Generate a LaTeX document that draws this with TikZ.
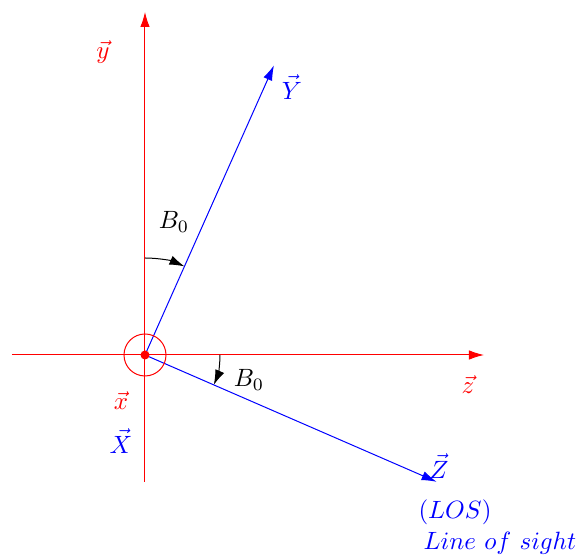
\documentclass[tikz,border=0pt]{standalone}
\usetikzlibrary{arrows.meta,calc}
\begin{document}
\begin{tikzpicture}[x=0.4pt,y=0.4pt,
  axis/.style={red,line width=0.4pt,-{Latex[length=6pt,width=3.8pt]}},
  vecb/.style={blue,line width=0.4pt,-{Latex[length=6pt,width=3.8pt]}},
  anglearc/.style={black,line width=0.4pt,-{Latex[length=6pt,width=3.8pt]}},
  lab/.style={inner sep=0pt}]
\useasboundingbox (0,0) rectangle (582,559);
\coordinate (O) at (145,204);
\coordinate (yb) at (145,77);
\coordinate (yt) at (145,547);
\coordinate (zl) at (12,204);
\coordinate (zt) at (484,204);
\coordinate (Yt) at ($(O)+(66:317)$);
\coordinate (Zt) at ($(O)+(-23.5:318)$);
\draw[axis] (yb) -- (yt);
\draw[axis] (zl) -- (zt);
\draw[vecb] (O) -- (Yt);
\draw[vecb] (O) -- (Zt);
\draw[red,line width=0.4pt] (O) circle (21);
\fill[red] (O) circle (4.5);
\draw[anglearc] ($(O)+(90:97)$) arc (90:66:97);
\draw[anglearc] ($(O)+(0:75)$) arc (0:-23.5:75);
\node[lab,red] (ly) at (103,507) {$\vec{y}$};
\node[lab,blue] (lY) at (292,472) {$\vec{Y}$};
\node[lab] (b1) at (174,337) {$B_0$};
\node[lab] (b2) at (249,179) {$B_0$};
\node[lab,red] (lz) at (468,174) {$\vec{z}$};
\node[lab,red] (lx) at (121,158) {$\vec{x}$};
\node[lab,blue] (lX) at (121,118) {$\vec{X}$};
\node[lab,blue] (lZ) at (439,93) {$\vec{Z}$};
\node[lab,blue] (los) at (455,47) {$(LOS)$};
\node[lab,blue] (lsight) at (500,16) {$Line\ of\ sight$};
\end{tikzpicture}
\end{document}
